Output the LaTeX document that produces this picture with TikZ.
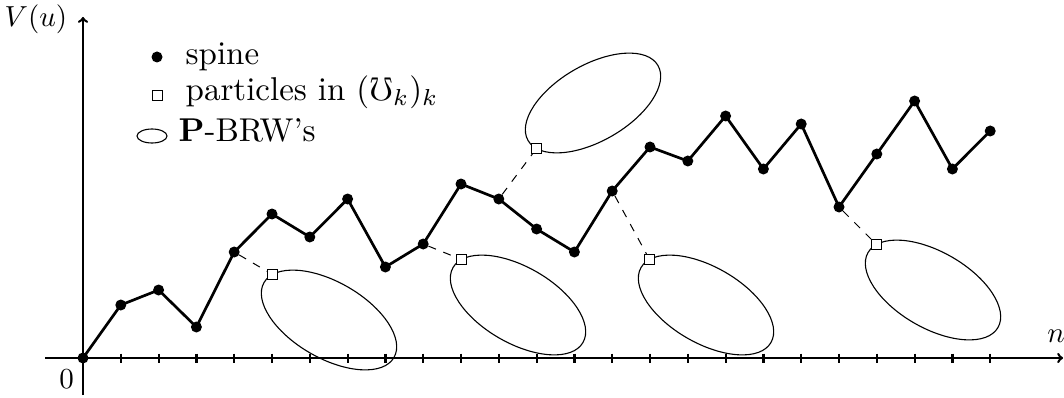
\documentclass[tikz,border=0pt]{standalone}
\usepackage{amssymb}
\usetikzlibrary{calc,backgrounds,shapes.geometric}
\begin{document}
\begin{tikzpicture}[x=1pt,y=-1pt,
  spine/.style={line width=2.7pt},
  axis/.style={line width=2.5pt,->},
  dot/.style={circle,fill=black,inner sep=0pt,minimum size=11pt},
  sq/.style={rectangle,draw,fill=white,line width=0.9pt,inner sep=0pt,minimum size=10pt},
  brw/.style={line width=1.1pt},
  link/.style={line width=1.0pt,dash pattern=on 8pt off 8pt},
  lbl/.style={scale=2.9,inner sep=0pt},
  leg/.style={scale=3.3,inner sep=0pt},
  tickmark/.style={line width=2.2pt}]
\useasboundingbox (0,0) rectangle (1064,398);
% axes
\coordinate (xs) at (45,358);
\coordinate (xe) at (1063,358);
\coordinate (ys) at (83,395);
\coordinate (ye) at (83,17);
\draw[axis] (xs) -- (xe);
\draw[axis] (ys) -- (ye);
\foreach \i in {1,...,24}
  \draw[tickmark] (83+37.8*\i,353.5) -- ++(0,9);
\node[lbl,anchor=base] (vu) at (36,27) {$V(u)$};
\node[lbl,anchor=base] (zero) at (66.5,388) {$0$};
\node[lbl,anchor=base] (nn) at (1056,342) {$n$};
% spine
\foreach \y [count=\i from 0] in {358,305,290,327,252,214,237,199,267,244,184,199,229,252,191,147,161,116,169,124,207,154,101,169,131}
  \node[dot] (p\i) at (83+37.8*\i,\y) {};
\begin{scope}[on background layer]
\foreach \i [evaluate=\i as \j using int(\i+1)] in {0,...,23}
  \draw[spine] (p\i.center) -- (p\j.center);
\end{scope}
% BRW ellipses
\coordinate (e1) at (329,320);
\coordinate (e2) at (518,305);
\coordinate (e3) at (706,305);
\coordinate (e4) at (933,290);
\coordinate (e5) at (593,103);
\foreach \k in {1,2,3,4}
  \draw[brw,rotate around={-30:(e\k)}] (e\k) ellipse[x radius=75,y radius=38];
\draw[brw,rotate around={30:(e5)}] (e5) ellipse[x radius=75,y radius=38];
\node[sq] (s1) at ($(e1)+(-56.5,-45.5)$) {};
\node[sq] (s2) at ($(e2)+(-56.5,-45.5)$) {};
\node[sq] (s3) at ($(e3)+(-56.5,-45.5)$) {};
\node[sq] (s4) at ($(e4)+(-56.5,-45.5)$) {};
\node[sq] (s5) at ($(e5)+(-56.5,45.5)$) {};
\draw[link] (p4) -- (s1);
\draw[link] (p9) -- (s2);
\draw[link] (p11) -- (s5);
\draw[link] (p14) -- (s3);
\draw[link] (p20) -- (s4);
% legend
\node[dot] (ld) at (157,57) {};
\node[sq] (ls) at (157,95) {};
\node[ellipse,draw,brw,minimum width=30pt,minimum height=14pt,inner sep=0pt] (le) at (152,136) {};
\node[leg,anchor=base west] (t1) at (185,65) {spine};
\node[leg,anchor=base west] (t2) at (185,101) {particles in $(\mho_k)_k$};
\node[leg,anchor=base west] (t3) at (178,142) {$\mathbf{P}$-BRW's};
\end{tikzpicture}
\end{document}
